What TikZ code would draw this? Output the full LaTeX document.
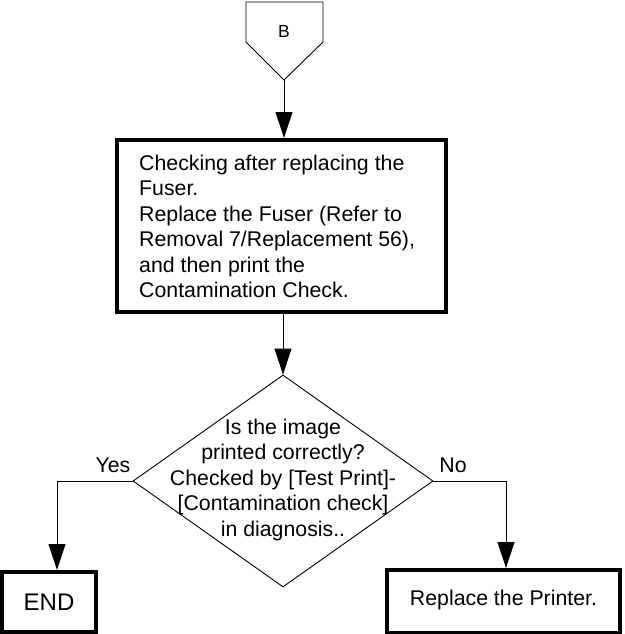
\documentclass[tikz,border=0pt]{standalone}
\usepackage{fontspec}
\setmainfont{Liberation Sans}
\usetikzlibrary{arrows.meta,shapes.geometric}
\begin{document}
\begin{tikzpicture}[x=1pt,y=-1pt,
  line/.style={draw=black,line width=0.9pt},
  arr/.style={line,-{Triangle[length=26pt,width=17pt]}},
  thickbox/.style={draw=black,line width=4pt,rectangle,inner sep=0pt},
  txt/.style={font=\fontsize{21.3}{25.5}\selectfont,inner sep=0pt},
  lbl/.style={font=\fontsize{21.3}{25.5}\selectfont,inner sep=0pt,anchor=base}]
\useasboundingbox (0,0) rectangle (624,634);
% connector B
\coordinate (btip) at (284,80);
\draw[line] (246,2) -- (323,2) -- (323,42) -- (btip) -- (246,42) -- cycle;
\node[font=\fontsize{17.5}{20}\selectfont,inner sep=0pt] (btxt) at (284,31) {B};
% first box
\node[thickbox,minimum width=329pt,minimum height=172pt] (box1) at (281,226) {};
\node[txt,anchor=north west,align=left] (box1txt) at (139,154.5)
 {Checking after replacing the\\Fuser.\\Replace the Fuser (Refer to\\Removal 7/Replacement 56),\\and then print the\\Contamination Check.};
% decision
\node[diamond,draw=black,line width=0.9pt,minimum width=300pt,minimum height=212pt,inner sep=0pt] (dec) at (283,481) {};
\node[txt,anchor=north,align=center] (dectxt) at (283,418.5)
 {Is the image\\printed correctly?\\Checked by {[}Test Print{]}-\\{[}Contamination check{]}\\in diagnosis..};
% end boxes
\node[thickbox,minimum width=94pt,minimum height=60pt] (endb) at (49,602) {};
\node[font=\fontsize{24}{28}\selectfont,inner sep=0pt] (endtxt) at (49,602) {END};
\node[thickbox,minimum width=233pt,minimum height=63pt] (rep) at (503.5,601.5) {};
\node[txt] (reptxt) at (503.5,600) {Replace the Printer.};
% labels
\node[lbl] (yes) at (113,472) {Yes};
\node[lbl] (no) at (453,472) {No};
% connectors
\coordinate (yc) at (57,481);
\coordinate (nc) at (506,481);
\draw[arr] (btip) -- (btip |- box1.north);
\draw[arr] (box1.south -| dec.north) -- (dec.north);
\draw[arr] (dec.west) -- (yc) -- (yc |- endb.north);
\draw[arr] (dec.east) -- (nc) -- (nc |- rep.north);
\end{tikzpicture}
\end{document}
